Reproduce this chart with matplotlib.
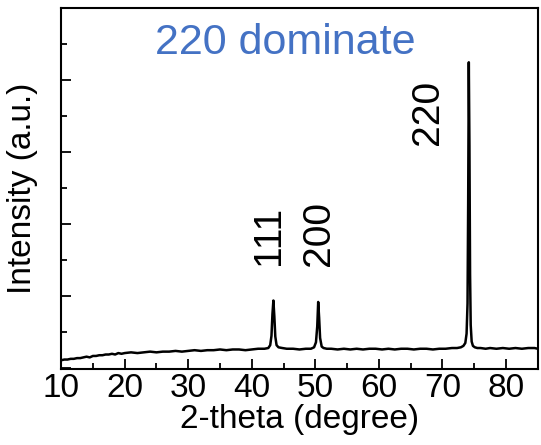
import numpy as np
import matplotlib
matplotlib.use("Agg")
import matplotlib.pyplot as plt
from matplotlib.ticker import MultipleLocator, NullFormatter

plt.rcParams['font.family'] = ['Liberation Sans', 'DejaVu Sans']

# XRD pattern (2-theta in degrees, intensity in a.u.)
two_theta = [10.0, 10.5, 11.0, 11.5, 12.0, 12.5, 13.0, 13.5, 14.0, 14.5, 15.0,
             15.5, 16.0, 16.5, 17.0, 17.5, 18.0, 18.5, 19.0, 19.5, 20.0,
             21.0, 22.0, 23.0, 24.0, 25.0, 26.0, 27.0, 28.0, 29.0, 30.0,
             31.0, 32.0, 33.0, 34.0, 35.0, 36.0, 37.0, 38.0, 39.0, 40.0,
             41.0, 42.0, 42.6, 42.9, 43.1, 43.25, 43.4, 43.55, 43.7, 43.9,
             44.2, 44.8, 45.5, 46.5, 47.5, 48.5, 49.3, 49.8, 50.1, 50.3,
             50.45, 50.6, 50.75, 51.0, 51.3, 51.8, 52.5, 53.5, 54.5, 55.5,
             56.5, 57.5, 58.5, 59.5, 60.5, 61.5, 62.5, 63.5, 64.5, 65.5,
             66.5, 67.5, 68.5, 69.5, 70.5, 71.5, 72.3, 72.9, 73.3, 73.6,
             73.8, 73.95, 74.05, 74.15, 74.25, 74.35, 74.45, 74.6, 74.8,
             75.1, 75.5, 76.0, 76.8, 77.5, 78.5, 79.5, 80.5, 81.5, 82.5,
             83.5, 84.5, 85.0]
intensity = [0.11, 0.12, 0.12, 0.13, 0.13, 0.14, 0.14, 0.15, 0.16, 0.15, 0.17,
             0.17, 0.18, 0.18, 0.19, 0.19, 0.20, 0.19, 0.21, 0.20, 0.21,
             0.22, 0.21, 0.22, 0.23, 0.22, 0.23, 0.23, 0.24, 0.23, 0.24,
             0.25, 0.24, 0.25, 0.25, 0.26, 0.25, 0.26, 0.26, 0.25, 0.26,
             0.27, 0.27, 0.28, 0.32, 0.45, 0.75, 0.94, 0.72, 0.44, 0.32,
             0.29, 0.28, 0.27, 0.27, 0.26, 0.27, 0.27, 0.29, 0.36, 0.58,
             0.92, 0.70, 0.42, 0.30, 0.28, 0.27, 0.27, 0.26, 0.27, 0.26,
             0.27, 0.26, 0.27, 0.27, 0.26, 0.27, 0.26, 0.27, 0.27, 0.26,
             0.27, 0.27, 0.26, 0.27, 0.27, 0.28, 0.28, 0.29, 0.31, 0.35,
             0.48, 0.90, 2.30, 4.25, 3.10, 1.30, 0.60, 0.37, 0.31,
             0.29, 0.28, 0.28, 0.27, 0.28, 0.27, 0.28, 0.27, 0.28, 0.27,
             0.28, 0.28, 0.27]

peak_pos = [42.7, 50.6, 67.8]
peak_names = ['111', '200', '220']
peak_y = [1.84, 1.875, 3.55]

fig = plt.figure(figsize=(5.41, 4.45), dpi=100)
ax = fig.add_axes([0.113, 0.171, 0.881, 0.812])

ax.plot(two_theta, intensity, color='black', lw=1.8)

ax.set_xlim(10, 85)
ax.set_ylim(-0.01, 5.01)
ax.xaxis.set_major_locator(MultipleLocator(10))
ax.xaxis.set_minor_locator(MultipleLocator(5))
ax.yaxis.set_major_locator(MultipleLocator(1))
ax.yaxis.set_minor_locator(MultipleLocator(0.5))
ax.yaxis.set_major_formatter(NullFormatter())
ax.tick_params(which='both', direction='in', top=False, right=False, width=1.3)
ax.tick_params(which='major', length=7, labelsize=24, pad=3)
ax.tick_params(which='minor', length=4)
for s in ax.spines.values():
    s.set_linewidth(1.5)

ax.set_xlabel('2-theta (degree)', fontsize=24, labelpad=0)
ax.set_ylabel('Intensity (a.u.)', fontsize=24, labelpad=13)

for x, y, t in zip(peak_pos, peak_y, peak_names):
    ax.text(x, y, t, rotation=90, fontsize=28, ha='center', va='center')

ax.text(0.47, 0.903, '220 dominate', transform=ax.transAxes, fontsize=31,
        color='#4472C4', ha='center', va='center')

fig.savefig('out.png', dpi=100)
